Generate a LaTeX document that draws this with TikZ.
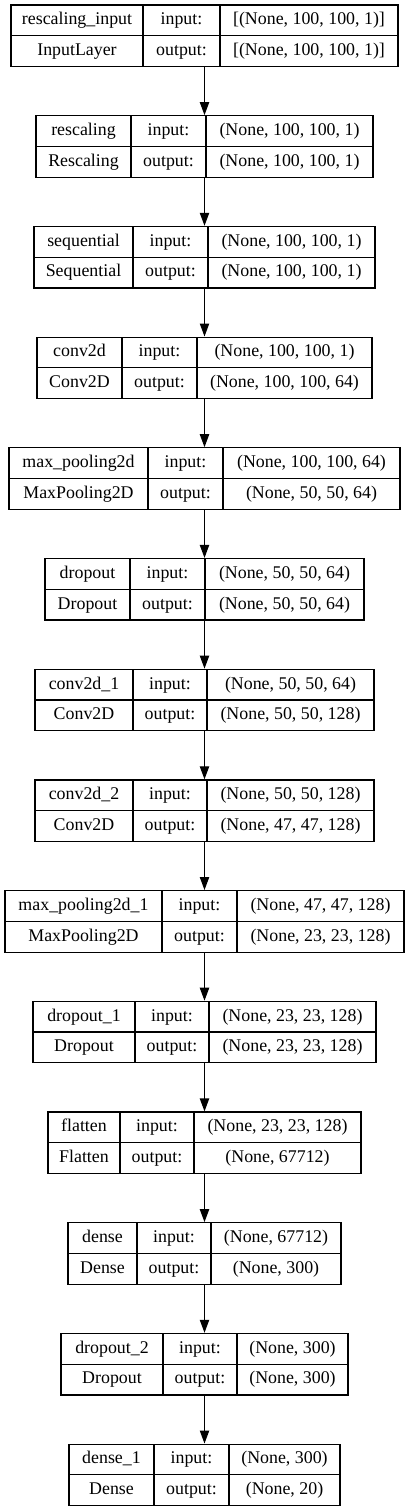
\documentclass[tikz,border=0pt]{standalone}
\usepackage{fontspec}
\setmainfont{Liberation Serif}
\usetikzlibrary{arrows.meta}
\tikzset{
  layerbox/.style={draw, line width=0.9pt, inner sep=0pt, minimum height=46.125pt},
  cellrule/.style={line width=0.9pt},
  celltext/.style={inner sep=0pt, font=\fontsize{13.4}{16}\selectfont, text height=9.4pt, text depth=3pt},
  flow/.style={line width=0.9pt, -{Triangle[length=9.75pt, width=7pt]}}
}
\begin{document}
\begin{tikzpicture}[x=0.75pt, y=-0.75pt]
\useasboundingbox (0,0) rectangle (409,1512);
% one table per layer: id/top/left/rule1/rule2/right/name/class/input/output
\foreach \id/\ytop/\xa/\xb/\xc/\xd/\nm/\cl/\inp/\outp in {
  l1/5/11/143/220/398/rescaling\_input/InputLayer/{[(None, 100, 100, 1)]}/{[(None, 100, 100, 1)]},
  l2/115.7/36/131/206/373/rescaling/Rescaling/{(None, 100, 100, 1)}/{(None, 100, 100, 1)},
  l3/226.4/34/133/208/375/sequential/Sequential/{(None, 100, 100, 1)}/{(None, 100, 100, 1)},
  l4/337.1/37/122/197/372/conv2d/Conv2D/{(None, 100, 100, 1)}/{(None, 100, 100, 64)},
  l5/447.8/9/148/223/400/max\_pooling2d/MaxPooling2D/{(None, 100, 100, 64)}/{(None, 50, 50, 64)},
  l6/558.5/45/130/205/364/dropout/Dropout/{(None, 50, 50, 64)}/{(None, 50, 50, 64)},
  l7/669.2/35/133/207/374/conv2d\_1/Conv2D/{(None, 50, 50, 64)}/{(None, 50, 50, 128)},
  l8/779.9/35/133/207/374/conv2d\_2/Conv2D/{(None, 50, 50, 128)}/{(None, 47, 47, 128)},
  l9/890.6/5/162/237/404/max\_pooling2d\_1/MaxPooling2D/{(None, 47, 47, 128)}/{(None, 23, 23, 128)},
  l10/1001.3/33/135/209/376/dropout\_1/Dropout/{(None, 23, 23, 128)}/{(None, 23, 23, 128)},
  l11/1112/48/120/194/361/flatten/Flatten/{(None, 23, 23, 128)}/{(None, 67712)},
  l12/1222.7/68/137/211/341/dense/Dense/{(None, 67712)}/{(None, 300)},
  l13/1333.4/61/163/237/348/dropout\_2/Dropout/{(None, 300)}/{(None, 300)},
  l14/1444.1/69/154/229/340/dense\_1/Dense/{(None, 300)}/{(None, 20)}}{
  \node[layerbox, minimum width={(\xd-\xa)*0.75pt}] (\id) at ({(\xa+\xd)/2},\ytop+30.75) {};
  \draw[cellrule] (\xb,\ytop) -- (\xb,\ytop+61.5) (\xc,\ytop) -- (\xc,\ytop+61.5)
    (\xa,\ytop+30.75) -- (\xd,\ytop+30.75);
  \node[celltext] (\id-name) at ({(\xa+\xb)/2},\ytop+15.6) {\nm};
  \node[celltext] (\id-class) at ({(\xa+\xb)/2},\ytop+46.3) {\cl};
  \node[celltext] (\id-inlbl) at ({(\xb+\xc)/2},\ytop+15.6) {input:};
  \node[celltext] (\id-outlbl) at ({(\xb+\xc)/2},\ytop+46.3) {output:};
  \node[celltext] (\id-in) at ({(\xc+\xd)/2},\ytop+15.6) {\inp};
  \node[celltext] (\id-out) at ({(\xc+\xd)/2},\ytop+46.3) {\outp};
}
\foreach \a/\b in {l1/l2,l2/l3,l3/l4,l4/l5,l5/l6,l6/l7,l7/l8,l8/l9,l9/l10,l10/l11,l11/l12,l12/l13,l13/l14}
  \draw[flow] (\a) -- (\b);
\end{tikzpicture}
\end{document}
